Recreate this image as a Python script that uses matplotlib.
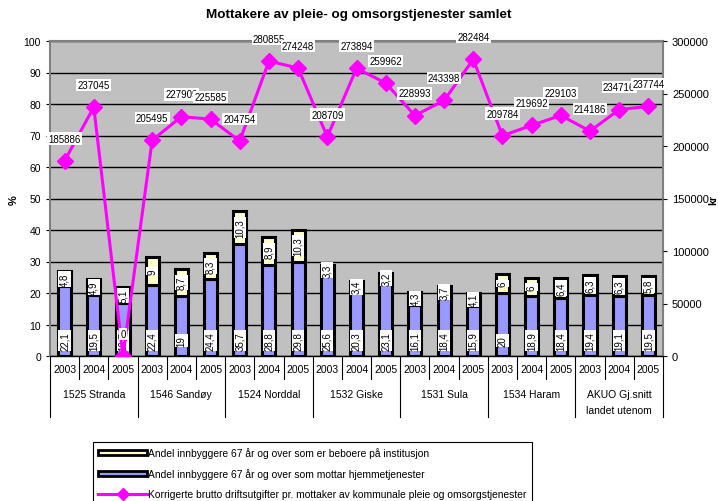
import matplotlib
matplotlib.use("Agg")
import matplotlib.pyplot as plt
import matplotlib.transforms as mtransforms
from matplotlib.patches import Patch
from matplotlib.lines import Line2D
import numpy as np

plt.rcParams['font.family'] = ['Liberation Sans', 'DejaVu Sans']

groups = ["1525 Stranda", "1546 Sandøy", "1524 Norddal", "1532 Giske",
          "1531 Sula", "1534 Haram", "AKUO Gj.snitt\nlandet utenom"]
years = ["2003", "2004", "2005"]

hjemme = [22.1, 19.5, 16.7, 22.4, 19, 24.4, 35.7, 28.8, 29.8, 25.6, 20.3,
          23.1, 16.1, 18.4, 15.9, 20, 18.9, 18.4, 19.4, 19.1, 19.5]
institusjon = [4.8, 4.9, 5.1, 9, 8.7, 8.3, 10.3, 8.9, 10.3, 3.3, 3.4,
               3.2, 4.3, 3.7, 4.1, 6, 6, 6.4, 6.3, 6.3, 5.8]
utgifter = [185886, 237045, 0, 205495, 227909, 225585, 204754, 280855,
            274248, 208709, 273894, 259962, 228993, 243398, 282484, 209784,
            219692, 229103, 214186, 234716, 237744]

lbl_inst = "Andel innbyggere 67 år og over som er beboere på institusjon"
lbl_hjem = "Andel innbyggere 67 år og over som mottar hjemmetjenester"
lbl_utg = "Korrigerte brutto driftsutgifter pr. mottaker av kommunale pleie og omsorgstjenester"

W, H = 718, 502
fig = plt.figure(figsize=(W / 100, H / 100), dpi=100)
L, R, T, B = 50, 663, 42, 357
ax = fig.add_axes([L / W, 1 - B / H, (R - L) / W, (B - T) / H])
ax.set_facecolor("#C0C0C0")

n = len(hjemme)
x = np.arange(n)
blue = "#9999FF"
yellow = "#FFFFCC"
bw = 0.45
ax.bar(x, hjemme, bw, color=blue, edgecolor="black", linewidth=2.2, zorder=3)
ax.bar(x, institusjon, bw, bottom=hjemme, color=yellow, edgecolor="black",
       linewidth=2.2, zorder=3)

def fmt(v):
    return ("%g" % v).replace(".", ",")

bbox = dict(boxstyle="square,pad=0.12", fc="white", ec="none")
for i in range(n):
    ax.annotate(fmt(hjemme[i]), xy=(x[i], 0), xytext=(0, 11),
                textcoords="offset points", rotation=90, ha="center",
                va="center", fontsize=7, bbox=bbox, zorder=5)
    ax.annotate(fmt(institusjon[i]), xy=(x[i], hjemme[i] + institusjon[i] / 2),
                ha="center", va="center", rotation=90, fontsize=7,
                bbox=bbox, zorder=5)

ax.set_xlim(-0.5, n - 0.5)
ax.set_ylim(0, 100)
ax.set_yticks(range(0, 101, 10))
ax.yaxis.grid(True, color="black", linewidth=1.0)
ax.set_axisbelow(True)
ax.tick_params(axis="y", labelsize=7.5, length=3, direction="out")
ax.set_xticks([])
for s in ["left", "right", "top", "bottom"]:
    ax.spines[s].set_color("#808080")
    ax.spines[s].set_linewidth(1.5)
ax.spines["bottom"].set_color("black")
ax.spines["bottom"].set_linewidth(1)

# category axis (two levels)
tr = mtransforms.blended_transform_factory(ax.transData, ax.transAxes)
px = 1.0 / (B - T)
for i in range(n):
    ax.text(x[i], -13 * px, years[i % 3], transform=tr, ha="center",
            va="center", fontsize=7.5)
for b in range(n + 1):
    xb = b - 0.5
    ylow = -61 * px if b % 3 == 0 else -23 * px
    ax.add_line(Line2D([xb, xb], [0, ylow], transform=tr, color="black",
                       linewidth=0.8, clip_on=False))
for g, name in enumerate(groups):
    xc = g * 3 + 1
    if "\n" in name:
        ax.text(xc, -38 * px, name.split("\n")[0], transform=tr,
                ha="center", va="center", fontsize=7.5)
        ax.text(xc, -54 * px, name.split("\n")[1], transform=tr,
                ha="center", va="center", fontsize=7.5)
    else:
        ax.text(xc, -38 * px, name, transform=tr, ha="center",
                va="center", fontsize=7.5)

ax2 = ax.twinx()
ax2.set_ylim(0, 300000)
ax2.set_yticks(range(0, 300001, 50000))
ax2.tick_params(axis="y", labelsize=8, length=3, direction="out")
for s in ["left", "right", "top", "bottom"]:
    ax2.spines[s].set_visible(False)
ax2.plot(x, utgifter, color="#FF00FF", linewidth=2.2, marker="D",
         markersize=8, zorder=4)
for i in range(n):
    ax2.annotate(str(utgifter[i]), xy=(x[i], utgifter[i]), xytext=(0, 16),
                 textcoords="offset points", ha="center", va="center",
                 fontsize=7, bbox=bbox, zorder=6, annotation_clip=False)

fig.text(14 / W, 1 - 200 / H, "%", rotation=90, ha="center", va="center",
         fontsize=8, fontweight="bold")
fig.text(713.5 / W, 1 - 200 / H, "kr", rotation=90, ha="center", va="center",
         fontsize=7.5, fontweight="bold")

fig.text((L + R) / 2 / W + 2 / W, 1 - 15 / H,
         "Mottakere av pleie- og omsorgstjenester samlet",
         ha="center", va="center", fontsize=9.7, fontweight="bold")

handles = [
    Patch(facecolor=yellow, edgecolor="black", linewidth=2),
    Patch(facecolor=blue, edgecolor="black", linewidth=2),
    Line2D([], [], color="#FF00FF", linewidth=2.2, marker="D", markersize=6),
]
leg = fig.legend(handles, [lbl_inst, lbl_hjem, lbl_utg], loc="upper left",
                 bbox_to_anchor=(93 / W, 1 - 443 / H), fontsize=7.4,
                 frameon=True, fancybox=False, edgecolor="black",
                 framealpha=1, handlelength=4.8, handleheight=0.45,
                 handletextpad=0.1, labelspacing=1.0, borderpad=0.5,
                 borderaxespad=0)
leg.get_frame().set_linewidth(0.8)

fig.savefig("out.png", dpi=100)
